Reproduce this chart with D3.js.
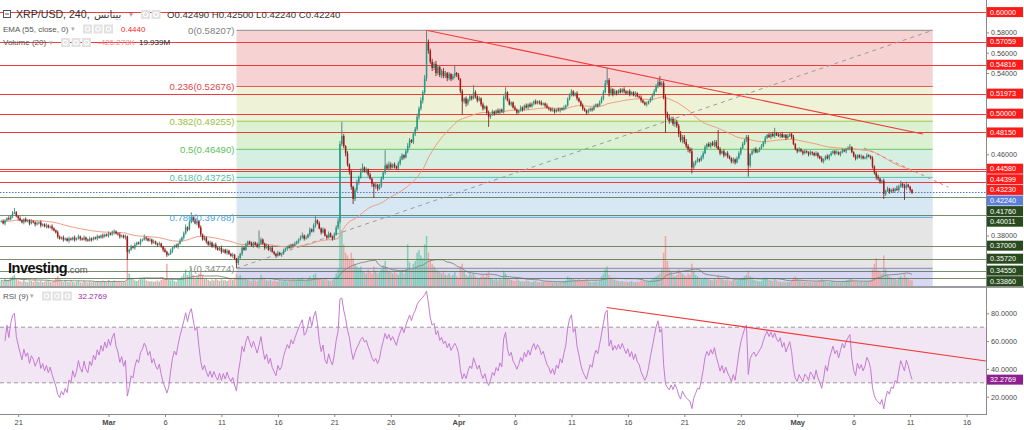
<!DOCTYPE html>
<html><head><meta charset="utf-8">
<script src="https://cdn.jsdelivr.net/npm/d3@7"></script>
<style>
body{margin:0;background:#fff;}
svg{display:block;font-family:"Liberation Sans",Arial,"DejaVu Sans",sans-serif;}
</style>
</head><body>
<svg id="c" width="1024" height="430"></svg>
<script>
// ---------------- DATA ----------------
const startTime = Date.UTC(2019, 1, 19, 12); // first 4h bar
const barHours = 4;
const firstOpen = 0.394;
const closes = [
.394,.392,.395,.397,.396,.399,.402,.403,.399,.397,
.395,.393,.396,.394,.395,.392,.394,.393,.391,.392,
.393,.390,.391,.389,.390,.388,.389,.387,.385,.383,
.379,.377,.378,.376,.377,.375,.377,.376,.378,.376,
.377,.379,.377,.376,.378,.376,.375,.377,.376,.378,
.377,.379,.378,.380,.379,.381,.380,.382,.381,.383,
.384,.382,.381,.379,.380,.378,.379,.364,.366,.369,
.368,.371,.373,.372,.375,.376,.378,.377,.375,.376,
.373,.374,.372,.371,.372,.369,.366,.364,.361,.362,
.365,.368,.370,.369,.372,.375,.378,.382,.388,.386,
.393,.398,.395,.392,.394,.388,.381,.376,.378,.374,
.371,.373,.369,.371,.368,.366,.368,.364,.366,.363,
.365,.362,.360,.361,.357,.353,.358,.362,.368,.366,
.371,.374,.372,.370,.373,.371,.369,.372,.376,.372,
.368,.370,.366,.368,.364,.362,.360,.363,.361,.362,
.365,.367,.369,.368,.371,.370,.372,.374,.376,.378,
.380,.377,.378,.381,.386,.384,.390,.395,.392,.387,
.383,.386,.380,.378,.382,.379,.377,.381,.388,.394,
.470,.478,.468,.461,.450,.443,.428,.416,.425,.432,
.437,.444,.447,.443,.445,.440,.436,.431,.428,.430,
.426,.429,.436,.442,.449,.446,.450,.447,.450,.448,
.446,.451,.455,.459,.457,.463,.468,.474,.472,.480,
.485,.497,.505,.513,.521,.535,.570,.562,.551,.545,
.549,.540,.546,.538,.542,.537,.540,.535,.539,.534,
.537,.540,.538,.534,.522,.512,.515,.510,.514,.517,
.515,.521,.517,.513,.515,.509,.505,.507,.501,.497,
.499,.502,.500,.503,.501,.504,.502,.516,.521,.513,
.509,.511,.506,.504,.501,.503,.506,.504,.508,.506,
.509,.507,.510,.512,.510,.512,.511,.509,.510,.508,
.506,.505,.503,.504,.502,.504,.503,.505,.504,.506,
.508,.514,.519,.522,.518,.520,.515,.512,.508,.505,
.503,.501,.503,.505,.504,.507,.509,.508,.511,.515,
.521,.530,.533,.520,.524,.519,.522,.520,.523,.521,
.524,.522,.520,.522,.519,.521,.518,.520,.517,.516,
.513,.511,.509,.510,.512,.515,.518,.522,.527,.531,
.528,.530,.516,.500,.496,.493,.495,.490,.492,.488,
.480,.474,.477,.472,.468,.465,.463,.447,.451,.453,
.455,.454,.457,.461,.467,.470,.468,.471,.469,.472,
.468,.465,.461,.463,.459,.461,.458,.456,.453,.455,
.452,.456,.461,.466,.470,.474,.477,.449,.460,.463,
.465,.462,.464,.466,.468,.472,.476,.479,.477,.480,
.478,.481,.479,.478,.480,.477,.479,.476,.478,.480,
.477,.470,.465,.463,.465,.463,.461,.463,.462,.460,
.462,.461,.459,.461,.458,.456,.453,.455,.458,.456,
.459,.461,.463,.461,.462,.460,.462,.464,.463,.465,
.466,.467,.462,.458,.456,.459,.457,.458,.456,.457,
.459,.458,.456,.448,.442,.438,.436,.433,.434,.421,
.424,.426,.423,.425,.424,.426,.425,.428,.431,.429,
.427,.430,.428,.425,.422];
// upper / lower wick lengths in units of 0.001
const wickUp = [
1,2,1,1,2,1,2,4,1,1, 2,1,1,2,1,1,2,1,1,2, 1,2,1,1,2,1,1,2,1,1, 2,1,1,2,1,1,2,1,1,2,
1,2,1,1,2,1,1,2,1,1, 1,2,1,1,2,1,1,2,1,2, 2,1,1,2,1,1,2,1,1,2, 1,2,1,1,2,1,3,1,1,2,
1,2,1,1,2,1,1,2,1,1, 2,1,1,2,1,2,1,2,3,1, 2,5,1,2,3,1,2,1,2,1, 1,2,1,1,2,1,1,2,1,1,
2,1,1,2,1,1,2,1,2,1, 2,1,1,2,1,1,2,13,2,1, 1,2,1,1,2,1,1,2,1,1, 2,1,1,2,1,1,2,1,1,2,
3,1,2,1,2,1,2,4,1,2, 1,2,1,1,2,1,1,2,2,3, 3,14,2,1,2,1,2,1,2,3, 2,2,4,1,2,1,2,1,1,2,
1,2,2,1,15,2,3,2,1,2, 1,2,3,2,1,2,3,2,1,2, 2,3,2,3,2,3,12,3,2,3, 2,3,2,1,2,3,2,1,2,1,
2,8,1,2,1,2,1,2,1,2, 1,7,2,1,2,1,2,1,1,2, 1,2,1,1,2,1,1,2,5,1, 2,1,1,2,1,1,2,1,1,2,
1,2,1,1,2,1,1,2,1,1, 2,1,1,2,1,1,2,1,1,2, 1,2,1,2,1,1,2,1,1,2, 1,1,2,1,1,2,1,1,2,2,
2,3,12,2,2,1,2,1,1,2, 1,2,1,1,2,1,1,2,1,1, 2,1,1,2,1,1,2,2,2,3, 6,2,2,3,2,3,2,2,3,2,
2,3,2,2,3,2,2,3,2,1, 2,1,2,2,2,1,2,1,2,2, 2,16,2,1,2,1,2,1,1,2, 1,2,2,1,2,1,2,2,1,2,
1,2,1,1,2,1,2,1,2,1, 2,5,1,2,1,2,1,1,2,1, 1,2,1,1,2,1,1,2,1,1, 2,1,1,2,1,1,2,1,1,2,
1,2,1,1,2,1,1,2,1,1, 2,3,1,1,2,1,1,2,1,1, 2,1,1,2,1,1,2,1,1,2, 1,2,1,1,2,1,3,2,3,1,
2,3,1,1,1];
const wickDn = [
1,1,2,1,1,1,2,1,1,2, 1,1,2,1,1,2,1,1,2,1, 1,2,1,1,2,1,1,2,1,1, 2,1,1,2,1,1,2,1,1,2,
1,1,2,1,1,2,1,1,2,1, 1,2,1,1,2,1,1,2,1,1, 2,1,1,2,1,1,2,8,2,1, 1,2,1,1,2,1,1,2,1,1,
2,1,1,2,1,1,2,1,2,1, 1,2,1,1,2,1,1,2,1,2, 1,1,2,1,2,1,2,1,1,2, 1,2,1,1,2,1,1,2,1,1,
2,1,1,2,1,5,2,1,2,1, 1,2,1,1,2,1,1,2,1,1, 2,1,1,2,1,1,2,1,1,2, 1,1,2,1,1,2,1,1,2,1,
1,2,1,1,2,1,1,2,1,1, 2,1,1,2,1,1,2,1,1,2, 2,2,2,3,2,3,3,5,2,2, 2,1,2,1,2,2,1,3,11,2,
2,1,2,1,2,1,2,2,1,2, 1,2,2,1,2,1,2,2,1,2, 2,2,3,2,3,2,3,3,2,3, 2,3,2,2,3,2,2,3,2,2,
1,2,2,1,2,13,2,3,2,2, 2,1,2,2,1,2,2,1,2,10, 2,1,2,1,1,2,1,2,2,1, 1,2,1,1,2,1,1,2,1,1,
2,1,1,2,1,1,2,1,1,2, 1,2,1,1,2,1,1,2,1,1, 2,1,1,2,1,1,2,1,1,2, 1,2,1,1,2,1,1,2,1,1,
2,1,2,3,2,2,1,2,1,1, 1,2,1,1,2,1,1,2,1,1, 2,1,1,2,1,1,2,1,1,2, 1,2,2,19,2,3,2,2,3,2,
3,2,3,2,2,3,2,6,2,2, 1,2,1,2,1,2,1,2,1,2, 2,1,2,1,2,1,2,1,2,2, 2,1,1,2,1,1,2,11,2,1,
2,1,1,2,1,1,2,1,1,2, 1,2,1,1,2,1,1,2,1,1, 2,1,1,2,1,1,2,1,1,2, 1,2,1,1,2,1,1,2,1,1,
2,1,1,2,1,1,2,1,1,2, 1,2,1,1,2,1,1,2,1,1, 2,1,1,2,2,3,2,2,2,5, 2,1,2,1,2,1,1,2,1,2,
12,2,1,2,1];
// volume per bar, millions
const volumes = [
20,15,25,18,22,30,35,40,28,20, 18,15,22,16,14,20,18,15,25,17, 15,20,14,16,18,22,15,14,20,28,
35,25,18,15,20,16,14,18,15,13, 16,20,14,12,18,15,13,17,14,16, 15,18,14,16,20,17,15,22,16,18,
20,16,15,18,14,16,15,170,45,30, 25,20,18,22,28,24,30,20,18,16, 18,15,17,20,16,22,28,25,80,22,
20,25,18,15,22,28,35,45,60,40, 55,65,40,30,35,45,50,38,25,28, 22,18,24,20,26,22,18,25,20,22,
18,24,28,22,30,45,35,40,30,25, 28,22,20,18,24,20,18,22,40,30, 25,20,18,22,16,20,18,15,22,17,
18,22,16,20,18,24,20,22,28,25, 30,22,18,28,35,25,40,45,30,28, 25,22,30,24,20,18,22,30,45,60,
240,200,150,120,110,95,120,100,80,70, 65,70,55,50,45,60,50,45,70,55, 45,50,60,75,90,65,55,50,45,55,
45,40,50,55,45,60,150,85,60,80, 90,120,130,110,100,150,180,120,95,80, 70,60,55,50,45,55,40,38,45,35,
40,50,35,30,70,80,50,40,35,45, 40,45,35,30,28,35,40,32,45,55, 30,25,22,28,20,25,22,55,45,30,
25,22,20,18,25,20,16,18,15,20, 18,15,14,16,18,13,15,14,16,15, 14,18,15,13,16,14,12,15,14,18,
20,35,30,28,25,22,20,25,18,20, 22,25,18,15,14,16,18,15,20,35, 45,60,70,40,30,25,22,20,18,16,
18,15,16,14,15,18,14,13,16,15, 20,18,16,15,18,20,25,30,35,40, 45,60,120,180,90,60,50,40,35,40,
60,50,45,40,35,45,40,80,55,40, 35,30,28,25,30,28,25,22,20,25, 22,40,30,25,22,20,24,20,18,22,
25,20,22,28,30,35,40,55,35,25, 22,20,18,16,18,25,30,28,22,20, 18,25,20,16,15,14,16,13,15,14,
18,30,35,25,20,18,16,15,17,14, 15,13,16,14,18,20,25,20,16,15, 14,16,18,15,13,16,14,18,15,20,
22,28,25,20,18,16,15,17,14,16, 15,18,20,60,80,100,55,50,45,110, 60,40,35,30,28,25,22,30,35,28,
45,30,25,22,20];

// horizontal price levels
const levelPrices = [0.60000,0.57059,0.54816,0.51973,0.50000,0.48150,0.44580,0.44399,0.43230,0.42240,0.41760,0.40011,0.37000,0.35720,0.34550,0.33860];
const levelKinds  = ["r","r","r","r","r","r","r","r","r","c","s","s","s","s","s","s"];
// fibonacci retracement
const fibRatios = ["0","0.236","0.382","0.5","0.618","0.786","1"];
const fibPrices = [0.58207,0.52676,0.49255,0.46490,0.43725,0.39788,0.34774];
const fibStart = Date.UTC(2019,2,12,8), fibEnd = Date.UTC(2019,4,13,0);
// trend lines [time, value]
const mainTrend = [[Date.UTC(2019,2,29,4),0.58207],[Date.UTC(2019,4,12,3),0.4800]];
const shortTrend = [[Date.UTC(2019,4,6,22),0.4662],[Date.UTC(2019,4,14,9),0.4277]];
const rsiTrend = [[Date.UTC(2019,3,14,3),84.2],[Date.UTC(2019,4,17,17),45.7]];
// axis ticks
const priceTicks = [0.58,0.56,0.54,0.46,0.38];
const rsiTicks = [80,60,40,20];
const dateTicks = ["2019-02-21","2019-03-01","2019-03-06","2019-03-11","2019-03-16","2019-03-21","2019-03-26","2019-04-01","2019-04-06","2019-04-11","2019-04-16","2019-04-21","2019-04-26","2019-05-01","2019-05-06","2019-05-11","2019-05-16"];
const monthNames = ["Jan","Feb","Mar","Apr","May","Jun"];
// legend values
const ohlcLabels = ["O","H","L","C"];
const ohlcValues = ["0.42490","0.42500","0.42240","0.42240"];

// ---------------- SETUP ----------------
const PR = 986, MAIN_B = 286, RSI_T = 288, AX_Y = 414;
const svg = d3.select("#c");
const x = d3.scaleUtc().domain([new Date(Date.UTC(2019,1,19,9,18)), new Date(Date.UTC(2019,4,17,17,17))]).range([0, PR]);
const y = d3.scaleLinear().domain([0.58207, 0.34774]).range([30.3, 268.3]);
const yR = d3.scaleLinear().domain([80, 20]).range([313.3, 396.7]);
const yV = d3.scaleLinear().domain([0, 180]).range([MAIN_B, MAIN_B - 50]);

const bars = closes.map((c, i) => {
  const o = i ? closes[i-1] : firstOpen;
  return {t: new Date(startTime + i*barHours*3600e3), o, c,
    h: Math.max(o,c) + (wickUp[i]||0)*0.001, l: Math.min(o,c) - (wickDn[i]||0)*0.001, v: volumes[i]||0};
});
// EMA 55
const ema = []; const k = 2/56;
bars.forEach((b,i) => ema.push(i ? b.c*k + ema[i-1]*(1-k) : b.c));
// Volume SMA 20
const vma = bars.map((b,i) => { const s = bars.slice(Math.max(0,i-19), i+1); return d3.mean(s, d => d.v); });
// RSI 9
const rsi = new Array(bars.length).fill(null);
{ const n = 9; let ag = 0, al = 0;
  for (let i = 1; i < bars.length; i++) {
    const ch = bars[i].c - bars[i-1].c, g = Math.max(ch,0), l = Math.max(-ch,0);
    if (i <= n) { ag = (ag*(i-1) + g)/i; al = (al*(i-1) + l)/i; }
    else { ag = (ag*(n-1) + g)/n; al = (al*(n-1) + l)/n; }
    if (i >= 2) rsi[i] = al === 0 ? 100 : 100 - 100/(1 + ag/al);
  }
}

const defs = svg.append("defs");
defs.append("clipPath").attr("id","cm").append("rect").attr("x",0).attr("y",0).attr("width",PR).attr("height",MAIN_B);
defs.append("clipPath").attr("id","cr").append("rect").attr("x",0).attr("y",RSI_T).attr("width",PR).attr("height",AX_Y-RSI_T);

const gm = svg.append("g").attr("clip-path","url(#cm)");

// fib zones
const zoneColors = ["#f6d2d2","#eef3d8","#dcf1d2","#d5f0e3","#d7e8f4","#e5e5e5"];
const fx0 = x(new Date(fibStart)), fx1 = x(new Date(fibEnd));
for (let i = 0; i < fibPrices.length-1; i++) {
  gm.append("rect").attr("x",fx0).attr("width",fx1-fx0).attr("y",y(fibPrices[i])).attr("height",y(fibPrices[i+1])-y(fibPrices[i])).attr("fill",zoneColors[i]);
}
gm.append("rect").attr("x",fx0).attr("width",fx1-fx0).attr("y",y(fibPrices[6])).attr("height",MAIN_B-y(fibPrices[6])).attr("fill","#d8d8f4");

// volume
gm.append("g").selectAll("rect").data(bars).join("rect")
  .attr("x", d => x(d.t)-0.75).attr("width",1.5)
  .attr("y", d => yV(d.v)).attr("height", d => MAIN_B - yV(d.v))
  .attr("fill", d => d.c >= d.o ? "#6fc9b0" : "#f29a9a").attr("opacity",0.85);
gm.append("path").datum(bars).attr("fill","none").attr("stroke","#8c8c8c").attr("stroke-width",1)
  .attr("d", d3.line().x(d => x(d.t)).y((d,i) => yV(vma[i])));

// fib lines
const fibLineColors = ["#8a8a8a","#e05a5a","#9cc84a","#63c463","#4fc3a1","#5aa9e0","#8a8aa8"];
const fibTextColors = ["#808080","#e04848","#97c23c","#5cc05c","#4dbf9f","#4aa2dc","#8a8a8a"];
fibPrices.forEach((p,i) => gm.append("line").attr("x1",fx0).attr("x2",fx1).attr("y1",y(p)).attr("y2",y(p)).attr("stroke",fibLineColors[i]).attr("stroke-width",1));

// horizontal levels
const kindColor = {r:"#f03232", c:"#4b72d6", s:"#4a6a3a"};
levelPrices.forEach((p,i) => {
  const k = levelKinds[i];
  gm.append("line").attr("x1",0).attr("x2",PR).attr("y1",Math.round(y(p))+0.5).attr("y2",Math.round(y(p))+0.5)
    .attr("stroke",kindColor[k]).attr("stroke-width",1).attr("opacity", k==="s"?0.75:0.95)
    .attr("stroke-dasharray", k==="c" ? "1.5,1.5" : null);
});

// fib diagonal
gm.append("line").attr("x1",fx0).attr("y1",y(fibPrices[6])).attr("x2",fx1).attr("y2",y(fibPrices[0]))
  .attr("stroke","#9a9a9a").attr("stroke-dasharray","4,4").attr("stroke-width",1);

// EMA
gm.append("path").datum(bars).attr("fill","none").attr("stroke","#f09a82").attr("stroke-width",1)
  .attr("d", d3.line().x(d => x(d.t)).y((d,i) => y(ema[i])));

// candles
const gc = gm.append("g");
gc.selectAll("line").data(bars).join("line")
  .attr("x1", d => x(d.t)).attr("x2", d => x(d.t)).attr("y1", d => y(d.h)).attr("y2", d => y(d.l))
  .attr("stroke", d => d.c >= d.o ? "#4f7d70" : "#7a2a2a").attr("stroke-width",0.9);
gc.selectAll("rect").data(bars).join("rect")
  .attr("x", d => x(d.t)-0.75).attr("width",1.5)
  .attr("y", d => y(Math.max(d.o,d.c))).attr("height", d => Math.max(0.8, Math.abs(y(d.o)-y(d.c))))
  .attr("fill", d => d.c >= d.o ? "#1e9e86" : "#a81616");

// trend lines
gm.append("line").attr("x1",x(new Date(mainTrend[0][0]))).attr("y1",y(mainTrend[0][1])).attr("x2",x(new Date(mainTrend[1][0]))).attr("y2",y(mainTrend[1][1]))
  .attr("stroke","#f03a3a").attr("stroke-width",1.1);
gm.append("line").attr("x1",x(new Date(shortTrend[0][0]))).attr("y1",y(shortTrend[0][1])).attr("x2",x(new Date(shortTrend[1][0]))).attr("y2",y(shortTrend[1][1]))
  .attr("stroke","#f07070").attr("stroke-width",1).attr("stroke-dasharray","3,4");

// fib labels
fibPrices.forEach((p,i) => svg.append("text").attr("x",fx0-2).attr("y",y(p)).attr("dy","0.35em").attr("text-anchor","end")
  .attr("font-size",9.6).attr("fill",fibTextColors[i]).text(`${fibRatios[i]}(${p.toFixed(5)})`));

// logo
const logo = svg.append("text").attr("x",8).attr("y",273).attr("font-weight","bold").attr("font-size",14.5).attr("fill","#111").attr("letter-spacing",-0.5);
logo.append("tspan").text("Investing");
logo.append("tspan").attr("font-size",9.5).attr("font-weight","normal").attr("fill","#555").attr("letter-spacing",0).text(".com");

// ---------------- RSI PANEL ----------------
const gr = svg.append("g").attr("clip-path","url(#cr)");
gr.append("rect").attr("x",0).attr("width",PR).attr("y",yR(70)).attr("height",yR(30)-yR(70)).attr("fill","#f2e6f4");
[70,30].forEach(v => gr.append("line").attr("x1",0).attr("x2",PR).attr("y1",yR(v)).attr("y2",yR(v)).attr("stroke","#9a9a9a").attr("stroke-dasharray","4,3"));
gr.append("path").datum(bars).attr("fill","none").attr("stroke","#c47bd2").attr("stroke-width",1)
  .attr("d", d3.line().defined((d,i) => rsi[i] !== null).x(d => x(d.t)).y((d,i) => yR(rsi[i])));
gr.append("line").attr("x1",x(new Date(rsiTrend[0][0]))).attr("y1",yR(rsiTrend[0][1])).attr("x2",x(new Date(rsiTrend[1][0]))).attr("y2",yR(rsiTrend[1][1]))
  .attr("stroke","#f03a3a").attr("stroke-width",1.1);

// panel borders
svg.append("line").attr("x1",0).attr("x2",1024).attr("y1",287).attr("y2",287).attr("stroke","#9c9c9c").attr("stroke-width",2);
svg.append("line").attr("x1",0).attr("x2",PR+1).attr("y1",AX_Y+0.5).attr("y2",AX_Y+0.5).attr("stroke","#8a8a8a");
svg.append("line").attr("x1",PR+0.5).attr("x2",PR+0.5).attr("y1",0).attr("y2",AX_Y+1).attr("stroke","#8a8a8a");

// axes
const styleAxis = g => { g.select(".domain").remove(); g.selectAll("text").attr("fill","#4a4a4a").attr("font-family","Liberation Sans, Arial, sans-serif"); g.selectAll("line").attr("stroke","#8a8a8a"); };
svg.append("g").attr("transform",`translate(${PR},0)`)
  .call(d3.axisRight(y).tickValues(priceTicks).tickSize(3).tickPadding(2).tickFormat(d3.format(".5f")))
  .call(styleAxis).attr("font-size",7.2);
svg.append("g").attr("transform",`translate(${PR},0)`)
  .call(d3.axisRight(yR).tickValues(rsiTicks).tickSize(3).tickPadding(2).tickFormat(d3.format(".4f")))
  .call(styleAxis).attr("font-size",7.2);
const dts = dateTicks.map(s => new Date(s + "T00:00:00Z"));
const xa = svg.append("g").attr("transform",`translate(0,${AX_Y})`)
  .call(d3.axisBottom(x).tickValues(dts).tickSize(3).tickPadding(3)
    .tickFormat(d => d.getUTCDate() === 1 ? monthNames[d.getUTCMonth()] : String(d.getUTCDate())))
  .call(styleAxis).attr("font-size",7.5);
xa.selectAll("text").attr("font-weight", d => d.getUTCDate() === 1 ? "bold" : "normal");

// price labels (stacked to avoid overlap)
const boxColor = {r:"#ff1a1a", c:"#5b7fd8", s:"#284a1e"};
let prevY = -100;
levelPrices.forEach((p,i) => {
  let ly = Math.max(y(p), prevY + 10.6); prevY = ly;
  svg.append("rect").attr("x",PR+1).attr("y",ly-5).attr("width",36).attr("height",10).attr("fill",boxColor[levelKinds[i]]);
  svg.append("text").attr("x",PR+4).attr("y",ly).attr("dy","0.35em").attr("font-size",7.2).attr("fill","#fff").text(p.toFixed(5));
});
// RSI value label
const lastRsi = 32.2769;
svg.append("rect").attr("x",PR+1).attr("y",yR(lastRsi)-5).attr("width",36).attr("height",10).attr("fill","#8e1f8e");
svg.append("text").attr("x",PR+4).attr("y",yR(lastRsi)).attr("dy","0.35em").attr("font-size",7.2).attr("fill","#fff").text(lastRsi.toFixed(4));

// ---------------- LEGEND / HEADER ----------------
function icons(x0, yc, n) {
  for (let j = 0; j < n; j++) {
    const g = svg.append("g").attr("transform",`translate(${x0 + j*10.5},${yc-4.5})`);
    g.append("rect").attr("width",9).attr("height",9).attr("fill","#e2e2e2");
    g.append("circle").attr("cx",4.5).attr("cy",4.5).attr("r",2.2).attr("fill","none").attr("stroke","#fff").attr("stroke-width",1.1);
  }
}
const hdr = (tx, ty, s, size, color, extra) => { const t = svg.append("text").attr("x",tx).attr("y",ty).attr("dy","0.35em").attr("font-size",size).attr("fill",color).text(s); if (extra) extra(t); return t; };
// row 1
svg.append("rect").attr("x",3.5).attr("y",10.5).attr("width",7).attr("height",7).attr("fill","#fff").attr("stroke","#555");
svg.append("line").attr("x1",5).attr("x2",9).attr("y1",14).attr("y2",14).attr("stroke","#555");
hdr(16, 14.5, "XRP/USD, 240,", 10.6, "#333");
hdr(94, 14.5, "بينانس", 10.6, "#333", t => t.attr("font-family","DejaVu Sans, Noto Sans, sans-serif").attr("font-size",10));
hdr(129, 14.5, "▾", 8, "#aaa");
icons(141, 14.5, 2);
const ohlc = svg.append("text").attr("x",167).attr("y",14.5).attr("dy","0.35em").attr("font-size",9.6).attr("fill","#333");
ohlcLabels.forEach((lab,i) => { ohlc.append("tspan").text((i ? " " : "") + lab + ohlcValues[i]); });
// row 2
hdr(3, 29, "EMA (55, close, 0)", 8, "#555");
hdr(71, 29, "▾", 7, "#aaa");
icons(83, 29, 3);
hdr(121, 29, "0.4440", 8, "#f22a2a");
// row 3
hdr(3, 42.5, "Volume (20)", 8, "#555");
hdr(49, 42.5, "▾", 7, "#aaa");
icons(61, 42.5, 3);
hdr(98, 42.5, "-426.278K", 8, "#f58a8a");
hdr(139, 42.5, "19.939M", 8, "#222");
// RSI legend
hdr(3, 296, "RSI (9)", 8, "#555");
hdr(30, 296, "▾", 7, "#aaa");
icons(42, 296, 3);
hdr(78, 296, "32.2769", 8, "#9a2ca8");
</script>
</body></html>
